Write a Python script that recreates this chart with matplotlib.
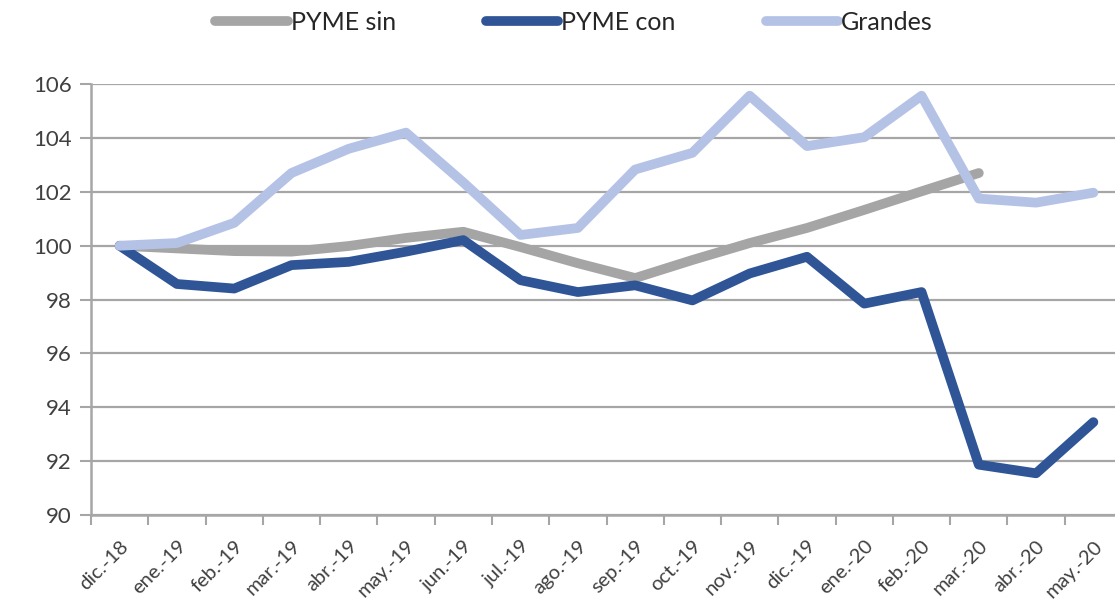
"""
PYME sin / PYME con / Grandes 指数走势图（dic.-18 = 100）
"""

import numpy as np
import matplotlib.pyplot as plt
from matplotlib.ticker import FixedLocator, MultipleLocator

# ==========================================
# 数据
# ==========================================
meses = ["dic.-18", "ene.-19", "feb.-19", "mar.-19", "abr.-19", "may.-19",
         "jun.-19", "jul.-19", "ago.-19", "sep.-19", "oct.-19", "nov.-19",
         "dic.-19", "ene.-20", "feb.-20", "mar.-20", "abr.-20", "may.-20"]

pyme_sin = [100.0, 99.9, 99.8, 99.78, 99.99, 100.29, 100.52, 99.95, 99.35,
            98.8, 99.47, 100.1, 100.66, 101.33, 102.02, 102.7, np.nan, np.nan]
pyme_con = [100.0, 98.58, 98.41, 99.28, 99.4, 99.78, 100.21, 98.72, 98.28,
            98.53, 97.97, 98.97, 99.59, 97.85, 98.28, 91.87, 91.55, 93.45]
grandes = [100.0, 100.1, 100.85, 102.7, 103.6, 104.2, 102.35, 100.4, 100.66,
           102.83, 103.45, 105.57, 103.7, 104.03, 105.57, 101.75, 101.6, 101.97]

series = [
    ("PYME sin", pyme_sin, "#a5a5a5"),
    ("PYME con", pyme_con, "#2f5597"),
    ("Grandes", grandes, "#b4c2e6"),
]

# 字体
plt.rcParams["font.family"] = ["Lato", "DejaVu Sans"]

# ==========================================
# 绘图
# ==========================================
fig = plt.figure(figsize=(11.15, 6.01), dpi=100)
# 绘图区右侧略超出画布（原图右边被裁掉）
ax = fig.add_axes([0.0816, 0.143, 0.9247, 0.717])

x = np.arange(len(meses))
for nombre, valores, color in series:
    ax.plot(x, valores, color=color, linewidth=7, label=nombre,
            solid_capstyle="round", solid_joinstyle="round")

ax.set_xlim(-0.5, len(meses) - 0.5)
ax.set_ylim(90, 106)

# y 轴
ax.yaxis.set_major_locator(MultipleLocator(2))
ax.grid(axis="y", color="#a6a6a6", linewidth=1.6)
ax.set_axisbelow(True)
ax.tick_params(axis="y", length=8, width=1.5, color="#a6a6a6",
               labelsize=16, labelcolor="#404040", pad=6)

# x 轴：刻度线在类别边界，标签在类别中心
ax.set_xticks(x)
ax.set_xticklabels(meses, rotation=45, ha="right", rotation_mode="anchor")
ax.xaxis.set_minor_locator(FixedLocator(np.arange(len(meses) + 1) - 0.5))
ax.tick_params(axis="x", which="major", length=0, labelsize=14.5,
               labelcolor="#404040", pad=16)
ax.tick_params(axis="x", which="minor", length=7, width=1.5, color="#a6a6a6")

for lado in ["top", "right"]:
    ax.spines[lado].set_visible(False)
for lado in ["left", "bottom"]:
    ax.spines[lado].set_color("#a6a6a6")
    ax.spines[lado].set_linewidth(1.8)

# 图例
leg = fig.legend(loc="center", bbox_to_anchor=(0.515, 0.963), ncol=3,
                 frameon=False, fontsize=18, handlelength=2.9,
                 handletextpad=0.12, columnspacing=3.6)
for t in leg.get_texts():
    t.set_color("#262626")

plt.savefig("out.png", dpi=100)
